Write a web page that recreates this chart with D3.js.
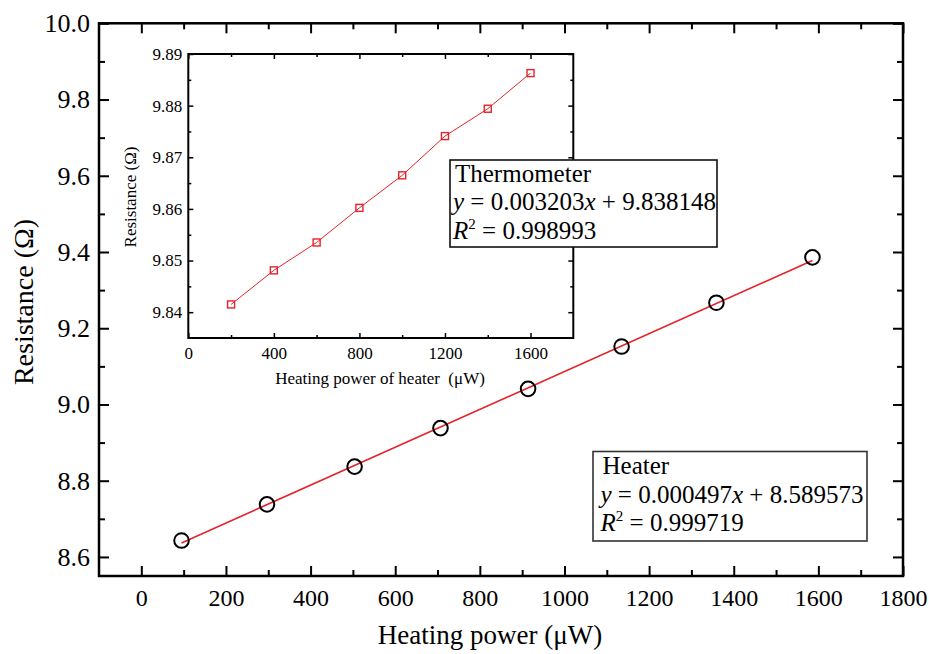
<!DOCTYPE html>
<html>
<head>
<meta charset="utf-8">
<script src="https://cdn.jsdelivr.net/npm/d3@7"></script>
<style>
  body { margin: 0; background: #fff; }
  svg text { font-family: "Liberation Serif", "Times New Roman", serif; fill: #000; }
</style>
</head>
<body>
<div id="chart"></div>
<script>
// main chart: heater
var heaterPower = [95, 297, 504, 707, 914, 1135, 1359, 1586];
var heaterRes = [8.643, 8.738, 8.837, 8.938, 9.041, 9.152, 9.267, 9.386];
var heaterSlope = 0.000497, heaterIntercept = 8.589573;
var heaterText = ["Heater", "y = 0.000497x + 8.589573", "R2 = 0.999719"];

// inset: thermometer
var thermoPower = [200, 400, 600, 800, 1000, 1200, 1400, 1600];
var thermoRes = [9.8415, 9.8481, 9.8535, 9.8602, 9.8665, 9.8741, 9.8794, 9.8863];
var thermoText = ["Thermometer", "y = 0.003203x + 9.838148", "R2 = 0.998993"];

var mainXTicks = [0, 200, 400, 600, 800, 1000, 1200, 1400, 1600, 1800];
var mainXMinor = [100, 300, 500, 700, 900, 1100, 1300, 1500, 1700];
var mainYTicks = [8.6, 8.8, 9.0, 9.2, 9.4, 9.6, 9.8, 10.0];
var mainYMinor = [8.7, 8.9, 9.1, 9.3, 9.5, 9.7, 9.9];
var insetXTicks = [0, 400, 800, 1200, 1600];
var insetXMinor = [200, 600, 1000, 1400];
var insetYTicks = [9.84, 9.85, 9.86, 9.87, 9.88, 9.89];
var insetYMinor = [9.845, 9.855, 9.865, 9.875, 9.885];

var red = "#e52229";
var serif = "'Liberation Serif', 'Times New Roman', serif";

var svg = d3.select("#chart").append("svg")
  .attr("width", 929)
  .attr("height", 654)
  .attr("font-family", serif);

// scales
var x = d3.scaleLinear().domain([-100, 1800]).range([99, 903]);
var y = d3.scaleLinear().domain([8.55, 10.0]).range([576, 23.3]);
var ix = d3.scaleLinear().domain([0, 1800]).range([188.3, 573.3]);
var iy = d3.scaleLinear().domain([9.835, 9.89]).range([338, 54]);

// draws ticks on all four sides (inward), labels on bottom and left
function frame(xs, ys, o) {
  var x0 = xs.range()[0], x1 = xs.range()[1], y0 = ys.range()[0], y1 = ys.range()[1];
  var g = svg.append("g");

  function add(axis, tr) {
    var a = g.append("g").attr("transform", tr).call(axis);
    a.attr("font-family", serif);
    a.select(".domain").remove();
    a.selectAll("line").attr("stroke", "#000").attr("stroke-width", o.tickW);
    return a;
  }

  // bottom
  var b = add(d3.axisBottom(xs).tickValues(o.xMajor).tickSizeInner(-o.big).tickSizeOuter(0)
    .tickPadding(o.xPad).tickFormat(d3.format("d")), "translate(0," + y0 + ")");
  b.selectAll("text").style("font-size", o.xFont + "px");
  add(d3.axisBottom(xs).tickValues(o.xMinor).tickSizeInner(-o.small).tickSizeOuter(0).tickFormat(""),
    "translate(0," + y0 + ")");
  // top
  add(d3.axisTop(xs).tickValues(o.xMajor).tickSizeInner(-o.big).tickSizeOuter(0).tickFormat(""),
    "translate(0," + y1 + ")");
  add(d3.axisTop(xs).tickValues(o.xMinor).tickSizeInner(-o.small).tickSizeOuter(0).tickFormat(""),
    "translate(0," + y1 + ")");
  // left
  var l = add(d3.axisLeft(ys).tickValues(o.yMajor).tickSizeInner(-o.big).tickSizeOuter(0)
    .tickPadding(o.yPad).tickFormat(d3.format(o.yFmt)), "translate(" + x0 + ",0)");
  l.selectAll("text").style("font-size", o.yFont + "px");
  add(d3.axisLeft(ys).tickValues(o.yMinor).tickSizeInner(-o.small).tickSizeOuter(0).tickFormat(""),
    "translate(" + x0 + ",0)");
  // right
  add(d3.axisRight(ys).tickValues(o.yMajor).tickSizeInner(-o.big).tickSizeOuter(0).tickFormat(""),
    "translate(" + x1 + ",0)");
  add(d3.axisRight(ys).tickValues(o.yMinor).tickSizeInner(-o.small).tickSizeOuter(0).tickFormat(""),
    "translate(" + x1 + ",0)");

  g.append("rect")
    .attr("x", x0).attr("y", y1)
    .attr("width", x1 - x0).attr("height", y0 - y1)
    .attr("fill", "none").attr("stroke", "#000").attr("stroke-width", o.frameW);
}

frame(x, y, {
  xMajor: mainXTicks, xMinor: mainXMinor, yMajor: mainYTicks, yMinor: mainYMinor,
  big: 10, small: 6, tickW: 2, frameW: 2.5,
  xPad: 13, yPad: 9, xFont: 24, yFont: 26, yFmt: ".1f"
});

// fit line for heater
var fitX = d3.extent(heaterPower);
svg.append("line")
  .attr("x1", x(fitX[0])).attr("y1", y(heaterIntercept + heaterSlope * fitX[0]))
  .attr("x2", x(fitX[1])).attr("y2", y(heaterIntercept + heaterSlope * fitX[1]))
  .attr("stroke", red).attr("stroke-width", 1.6);

svg.selectAll("circle.heater")
  .data(heaterPower)
  .join("circle")
  .attr("class", "heater")
  .attr("cx", function(d) { return x(d); })
  .attr("cy", function(d, i) { return y(heaterRes[i]); })
  .attr("r", 7.3)
  .attr("fill", "none")
  .attr("stroke", "#000")
  .attr("stroke-width", 2);

// axis titles
svg.append("text")
  .attr("x", 490).attr("y", 644)
  .attr("text-anchor", "middle")
  .style("font-size", "27px")
  .text("Heating power (\u03bcW)");

svg.append("text")
  .attr("transform", "translate(23,302) rotate(-90)")
  .attr("text-anchor", "middle")
  .attr("dy", "0.35em")
  .style("font-size", "28px")
  .text("Resistance (\u03a9)");

// inset
svg.append("rect")
  .attr("x", ix.range()[0]).attr("y", iy.range()[1])
  .attr("width", ix.range()[1] - ix.range()[0]).attr("height", iy.range()[0] - iy.range()[1])
  .attr("fill", "#fff");

frame(ix, iy, {
  xMajor: insetXTicks, xMinor: insetXMinor, yMajor: insetYTicks, yMinor: insetYMinor,
  big: 5, small: 3, tickW: 1.5, frameW: 2,
  xPad: 9, yPad: 6, xFont: 17, yFont: 17, yFmt: ".2f"
});

var line = d3.line()
  .x(function(d) { return ix(d); })
  .y(function(d, i) { return iy(thermoRes[i]); });

svg.append("path")
  .datum(thermoPower)
  .attr("d", line)
  .attr("fill", "none")
  .attr("stroke", red)
  .attr("stroke-width", 1);

svg.selectAll("rect.thermo")
  .data(thermoPower)
  .join("rect")
  .attr("class", "thermo")
  .attr("x", function(d) { return ix(d) - 3.5; })
  .attr("y", function(d, i) { return iy(thermoRes[i]) - 3.5; })
  .attr("width", 7).attr("height", 7)
  .attr("fill", "none")
  .attr("stroke", red)
  .attr("stroke-width", 1.4);

svg.append("text")
  .attr("x", 380).attr("y", 384)
  .attr("text-anchor", "middle")
  .style("font-size", "17px")
  .text("Heating power of heater \u00a0(\u03bcW)");

svg.append("text")
  .attr("transform", "translate(130,197) rotate(-90)")
  .attr("text-anchor", "middle")
  .attr("dy", "0.35em")
  .style("font-size", "17px")
  .text("Resistance (\u03a9)");

// equation boxes
function eqBox(lines, bx, by, bw, bh, tx, ty0, stroke) {
  svg.append("rect")
    .attr("x", bx).attr("y", by).attr("width", bw).attr("height", bh)
    .attr("fill", "#fff").attr("stroke", stroke).attr("stroke-width", 1.6);

  var fs = 25, lh = 28.7;
  svg.append("text").attr("x", tx + 2).attr("y", ty0).style("font-size", fs + "px").text(lines[0]);

  // y = ax + b
  var m = lines[1].match(/^y = (.*)x (.*)$/);
  var t2 = svg.append("text").attr("x", tx).attr("y", ty0 + lh).style("font-size", fs + "px");
  t2.append("tspan").style("font-style", "italic").text("y");
  t2.append("tspan").text(" = " + m[1]);
  t2.append("tspan").style("font-style", "italic").text("x");
  t2.append("tspan").text(" " + m[2]);

  // R2 = ...
  var t3 = svg.append("text").attr("x", tx).attr("y", ty0 + 2 * lh).style("font-size", fs + "px");
  t3.append("tspan").style("font-style", "italic").text("R");
  t3.append("tspan").attr("dy", -10).style("font-size", "15px").text("2");
  t3.append("tspan").attr("dy", 10).text(lines[2].slice(2));
}

eqBox(thermoText, 450, 160, 267, 87, 453, 181.5, "#111");
eqBox(heaterText, 593, 451.5, 274, 89.5, 600.5, 474, "#333");
</script>
</body>
</html>
